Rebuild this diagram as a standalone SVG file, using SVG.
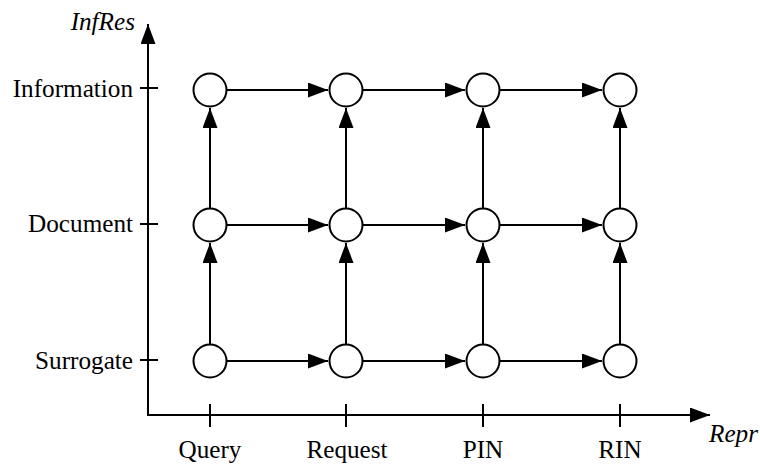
<svg xmlns="http://www.w3.org/2000/svg" width="760" height="464" viewBox="0 0 760 464">
<style>
.ln{stroke:#000;stroke-width:2;fill:none}
.nd{stroke:#000;stroke-width:2;fill:#fff}
.t{font-family:"Liberation Serif","Times New Roman",serif;font-size:25.2px;fill:#000}
.it{font-style:italic}
</style>
<defs>
<marker id="ah" markerUnits="userSpaceOnUse" markerWidth="21" markerHeight="16" refX="20" refY="7.5" orient="auto">
<path d="M0,0 L20,7.5 L0,15 z" fill="#000"/>
</marker>
</defs>
<rect width="760" height="464" fill="#fff"/>
<g id="axes">
<line class="ln" x1="148" y1="415" x2="148" y2="24" marker-end="url(#ah)"/>
<line class="ln" x1="147" y1="415" x2="710" y2="415" marker-end="url(#ah)"/>
<line class="ln" x1="140" y1="88" x2="158" y2="88"/>
<line class="ln" x1="140" y1="224" x2="158" y2="224"/>
<line class="ln" x1="140" y1="360" x2="158" y2="360"/>
<line class="ln" x1="210" y1="404" x2="210" y2="427"/>
<line class="ln" x1="346" y1="404" x2="346" y2="427"/>
<line class="ln" x1="483" y1="404" x2="483" y2="427"/>
<line class="ln" x1="620" y1="404" x2="620" y2="427"/>
<text class="t it" x="135" y="30" text-anchor="end">InfRes</text>
<text class="t it" x="709" y="442">Repr</text>
<text class="t" x="133" y="97" text-anchor="end">Information</text>
<text class="t" x="133" y="232" text-anchor="end">Document</text>
<text class="t" x="133" y="369" text-anchor="end">Surrogate</text>
<text class="t" x="210" y="458" text-anchor="middle">Query</text>
<text class="t" x="347" y="458" text-anchor="middle">Request</text>
<text class="t" x="483" y="458" text-anchor="middle">PIN</text>
<text class="t" x="620" y="458" text-anchor="middle">RIN</text>
</g>
<g id="connectors">
<line class="ln" x1="227" y1="90" x2="328" y2="90" marker-end="url(#ah)"/>
<line class="ln" x1="363" y1="90" x2="465" y2="90" marker-end="url(#ah)"/>
<line class="ln" x1="500" y1="90" x2="602" y2="90" marker-end="url(#ah)"/>
<line class="ln" x1="227" y1="225" x2="328" y2="225" marker-end="url(#ah)"/>
<line class="ln" x1="363" y1="225" x2="465" y2="225" marker-end="url(#ah)"/>
<line class="ln" x1="500" y1="225" x2="602" y2="225" marker-end="url(#ah)"/>
<line class="ln" x1="227" y1="361" x2="328" y2="361" marker-end="url(#ah)"/>
<line class="ln" x1="363" y1="361" x2="465" y2="361" marker-end="url(#ah)"/>
<line class="ln" x1="500" y1="361" x2="602" y2="361" marker-end="url(#ah)"/>
<line class="ln" x1="210" y1="344" x2="210" y2="243" marker-end="url(#ah)"/>
<line class="ln" x1="346" y1="344" x2="346" y2="243" marker-end="url(#ah)"/>
<line class="ln" x1="483" y1="344" x2="483" y2="243" marker-end="url(#ah)"/>
<line class="ln" x1="620" y1="344" x2="620" y2="243" marker-end="url(#ah)"/>
<line class="ln" x1="210" y1="208" x2="210" y2="108" marker-end="url(#ah)"/>
<line class="ln" x1="346" y1="208" x2="346" y2="108" marker-end="url(#ah)"/>
<line class="ln" x1="483" y1="208" x2="483" y2="108" marker-end="url(#ah)"/>
<line class="ln" x1="620" y1="208" x2="620" y2="108" marker-end="url(#ah)"/>
</g>
<g id="n-query-info"><circle class="nd" cx="210" cy="90" r="16.5"/></g>
<g id="n-request-info"><circle class="nd" cx="346" cy="90" r="16.5"/></g>
<g id="n-pin-info"><circle class="nd" cx="483" cy="90" r="16.5"/></g>
<g id="n-rin-info"><circle class="nd" cx="620" cy="90" r="16.5"/></g>
<g id="n-query-doc"><circle class="nd" cx="210" cy="225" r="16.5"/></g>
<g id="n-request-doc"><circle class="nd" cx="346" cy="225" r="16.5"/></g>
<g id="n-pin-doc"><circle class="nd" cx="483" cy="225" r="16.5"/></g>
<g id="n-rin-doc"><circle class="nd" cx="620" cy="225" r="16.5"/></g>
<g id="n-query-sur"><circle class="nd" cx="210" cy="361" r="16.5"/></g>
<g id="n-request-sur"><circle class="nd" cx="346" cy="361" r="16.5"/></g>
<g id="n-pin-sur"><circle class="nd" cx="483" cy="361" r="16.5"/></g>
<g id="n-rin-sur"><circle class="nd" cx="620" cy="361" r="16.5"/></g>
</svg>
